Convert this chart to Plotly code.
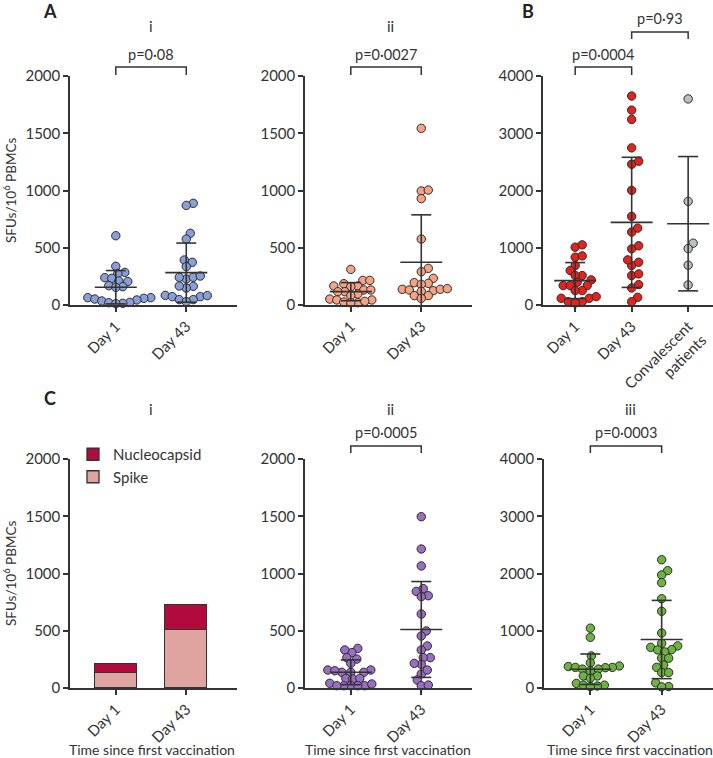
import numpy as np
import plotly.graph_objects as go

W, H = 713, 758

# ---------------- data ----------------
cats2 = ["Day 1", "Day 43"]
cats3 = ["Day 1", "Day 43", "Convalescent<br>patients"]

a_i_day1 = [605, 338, 285, 274, 239, 233, 210, 205, 169, 160, 154, 64, 64, 58, 52, 44, 35, 23, 20, 15, 12]
a_i_day43 = [888, 870, 626, 576, 393, 373, 335, 227, 242, 242, 253, 163, 148, 166, 84, 73, 73, 82, 47, 47, 30]

a_ii_day1 = [311, 215, 215, 186, 166, 166, 160, 131, 116, 116, 131, 96, 82, 52, 44, 44, 26, 20, 20, 32]
a_ii_day43 = [1543, 996, 1004, 929, 576, 320, 291, 233, 189, 195, 180, 137, 125, 131, 137, 143, 119, 82, 82, 58]

b_day1 = [1010, 1051, 835, 858, 689, 602, 514, 514, 339, 438, 397, 339, 339, 251, 251, 117, 146, 117, 58, 58, 35]
b_day43 = [3650, 3404, 3241, 2745, 2458, 2511, 2003, 1547, 1273, 1343, 981, 1034, 689, 788, 747, 514, 543, 298, 356, 134, 58]
b_conv = [3600, 1810, 1080, 985, 695, 350]

c_spike = [131, 505]
c_nucleocapsid = [82, 216]

c_ii_day1 = [346, 309, 332, 265, 253, 215, 157, 157, 137, 151, 137, 137, 84, 79, 84, 20, 41, 20, 35, 20, 20, 20]
c_ii_day43 = [1496, 1214, 1066, 844, 806, 798, 868, 646, 498, 454, 367, 332, 265, 265, 207, 215, 122, 157, 70, 20, 26]

c_iii_day1 = [1045, 885, 560, 440, 385, 375, 360, 360, 355, 330, 330, 300, 210, 210, 170, 80, 50, 50, 35, 25]
c_iii_day43 = [2240, 2050, 1975, 1840, 1560, 1340, 960, 780, 735, 710, 670, 665, 630, 520, 520, 400, 360, 270, 270, 90, 25, 20]

ticks2000 = [0, 500, 1000, 1500, 2000]
ticks4000 = [0, 1000, 2000, 3000, 4000]

# ---------------- styling ----------------
FONT = "Lato"
TXT = "#333333"
LINE = "#333333"
EDGE = "#2a2a2a"
col_blue = "#8a9fd8"
col_salmon = "#f6a284"
col_red = "#e3231c"
col_grey = "#bcc0c5"
col_purple = "#9a6fc3"
col_green = "#6cb33f"
col_nucleo = "#b10a3d"
col_spike = "#dfa49f"

fig = go.Figure()

# panel geometry in pixels: (x0, x1, ytop, ybottom), x range, y max
panels = {
    "Ai":   dict(ax="", px=(70, 237, 76, 305), xr=(-0.65, 1.72), ymax=2000, ticks=ticks2000, cats=cats2),
    "Aii":  dict(ax="2", px=(305, 472, 76, 305), xr=(-0.65, 1.72), ymax=2000, ticks=ticks2000, cats=cats2),
    "B":    dict(ax="3", px=(543, 713, 76, 305), xr=(-0.57, 2.44), ymax=4000, ticks=ticks4000, cats=cats3),
    "Ci":   dict(ax="4", px=(70, 237, 459, 688), xr=(-0.65, 1.72), ymax=2000, ticks=ticks2000, cats=cats2),
    "Cii":  dict(ax="5", px=(305, 472, 459, 688), xr=(-0.65, 1.72), ymax=2000, ticks=ticks2000, cats=cats2),
    "Ciii": dict(ax="6", px=(544, 713, 459, 688), xr=(-0.65, 1.72), ymax=4000, ticks=ticks4000, cats=cats2),
}

layout_axes = {}
for name, p in panels.items():
    x0, x1, yt, yb = p["px"]
    p["ppx"] = (x1 - x0) / (p["xr"][1] - p["xr"][0])
    p["ppy"] = (yb - yt) / p["ymax"]
    suffix = p["ax"]
    xa = dict(domain=[x0 / W, x1 / W], range=list(p["xr"]), anchor="y" + suffix,
              showline=True, linecolor=LINE, linewidth=1.5, ticks="outside", tickcolor=LINE,
              ticklen=5, tickwidth=1.5, showgrid=False, zeroline=False, automargin=False,
              tickmode="array", tickvals=list(range(len(p["cats"]))), ticktext=p["cats"],
              tickangle=-45, tickfont=dict(family=FONT, size=15, color=TXT), fixedrange=True)
    ya = dict(domain=[1 - yb / H, 1 - yt / H], range=[0, p["ymax"]], anchor="x" + suffix,
              showline=True, linecolor=LINE, linewidth=1.5, ticks="outside", tickcolor=LINE,
              ticklen=5, tickwidth=1.5, showgrid=False, zeroline=False, automargin=False,
              tickmode="array", tickvals=p["ticks"], ticktext=[str(t) for t in p["ticks"]],
              tickfont=dict(family=FONT, size=15, color=TXT), fixedrange=True)
    layout_axes["xaxis" + suffix] = xa
    layout_axes["yaxis" + suffix] = ya


def swarm_offsets(vals, ppx, ppy, diam=6.9, step=1.0):
    vals = np.asarray(vals, dtype=float)
    order = np.argsort(vals)
    placed = []
    offs = np.zeros(len(vals))
    cands = [0]
    for j in range(1, 80):
        cands += [j, -j]
    for i in order:
        ypx = vals[i] * ppy
        for c in cands:
            xpx = c * step
            if all((xpx - a) ** 2 + (ypx - b) ** 2 >= diam ** 2 for a, b in placed):
                break
        placed.append((xpx, ypx))
        offs[i] = xpx / ppx
    return offs


def add_dots(panel, idx, vals, color):
    p = panels[panel]
    offs = swarm_offsets(vals, p["ppx"], p["ppy"])
    fig.add_trace(go.Scatter(
        x=idx + offs, y=vals, mode="markers", cliponaxis=False, showlegend=False,
        marker=dict(size=8.4, color=color, line=dict(color=EDGE, width=1)),
        xaxis="x" + p["ax"], yaxis="y" + p["ax"], hoverinfo="y"))


def add_stats(panel, idx, vals):
    p = panels[panel]
    v = np.asarray(vals, dtype=float)
    m = v.mean()
    sd = v.std(ddof=1)
    hw_mean = 21 / p["ppx"]
    hw_cap = 10 / p["ppx"]
    lo = max(0.0, m - sd)
    hi = m + sd
    xs = [idx - hw_mean, idx + hw_mean, None, idx, idx, None, idx - hw_cap, idx + hw_cap]
    ys = [m, m, None, lo, hi, None, hi, hi]
    if m - sd > 0:
        xs += [None, idx - hw_cap, idx + hw_cap]
        ys += [None, lo, lo]
    fig.add_trace(go.Scatter(
        x=xs, y=ys, mode="lines", cliponaxis=False, showlegend=False,
        line=dict(color=LINE, width=1.6), hoverinfo="skip",
        xaxis="x" + p["ax"], yaxis="y" + p["ax"]))


groups = [
    ("Ai", [a_i_day1, a_i_day43], [col_blue, col_blue]),
    ("Aii", [a_ii_day1, a_ii_day43], [col_salmon, col_salmon]),
    ("B", [b_day1, b_day43, b_conv], [col_red, col_red, col_grey]),
    ("Cii", [c_ii_day1, c_ii_day43], [col_purple, col_purple]),
    ("Ciii", [c_iii_day1, c_iii_day43], [col_green, col_green]),
]
for panel, series, cols in groups:
    for i, (vals, c) in enumerate(zip(series, cols)):
        add_dots(panel, i, vals, c)
    for i, vals in enumerate(series):
        add_stats(panel, i, vals)

# stacked bars (C i)
pci = panels["Ci"]
bw = 42 / pci["ppx"]
fig.add_trace(go.Bar(x=[0, 1], y=c_spike, name="Spike", width=bw,
                     marker=dict(color=col_spike, line=dict(color=LINE, width=1.3)),
                     xaxis="x4", yaxis="y4"))
fig.add_trace(go.Bar(x=[0, 1], y=c_nucleocapsid, name="Nucleocapsid", width=bw,
                     marker=dict(color=col_nucleo, line=dict(color=LINE, width=1.3)),
                     xaxis="x4", yaxis="y4"))

# ---------------- annotations ----------------
ann = []


def txt(x, y, s, size=14, bold=False, xref="paper", angle=0):
    ann.append(dict(x=x if xref != "paper" else x / W, y=1 - y / H, xref=xref, yref="paper",
                    text=("<b>%s</b>" % s) if bold else s, showarrow=False,
                    xanchor="center", yanchor="middle", textangle=angle,
                    font=dict(family=FONT, size=size, color=TXT if not bold else "#222")))


txt(50, 11, "A", size=18, bold=True)
txt(528, 11, "B", size=18, bold=True)
txt(50, 398, "C", size=18, bold=True)

txt(151, 26, "i", size=15)
txt(390, 26, "ii", size=15)
txt(151, 409, "i", size=15)
txt(390, 409, "ii", size=15)
txt(630, 409, "iii", size=15)

ylab = "SFUs/10<sup>6</sup> PBMCs"
txt(10, 190, ylab, size=13.5, angle=-90)
txt(10, 573, ylab, size=13.5, angle=-90)

xlab = "Time since first vaccination"
txt(152, 749, xlab)
txt(388, 749, xlab)
txt(630, 749, xlab)

shapes = []


def bracket(panel, a, b, ytop, ytick, label, ytext):
    p = panels[panel]
    xr = "x" + p["ax"]
    y1 = 1 - ytop / H
    y2 = 1 - ytick / H
    shapes.append(dict(type="path", xref=xr, yref="paper",
                       path="M %f,%f L %f,%f L %f,%f L %f,%f" % (a, y2, a, y1, b, y1, b, y2),
                       line=dict(color=LINE, width=1.5)))
    txt((a + b) / 2, ytext, label, size=14.5, xref=xr)


bracket("Ai", 0, 1, 67, 75, "p=0·08", 54)
bracket("Aii", 0, 1, 67, 75, "p=0·0027", 54)
bracket("B", 0, 1, 67, 75, "p=0·0004", 54)
bracket("B", 1, 2, 32, 39, "p=0·93", 19)
bracket("Cii", 0, 1, 446, 453, "p=0·0005", 432)
bracket("Ciii", 0, 1, 446, 453, "p=0·0003", 432)

fig.update_layout(
    width=W, height=H, margin=dict(l=0, r=0, t=0, b=0, autoexpand=False),
    paper_bgcolor="white", plot_bgcolor="white",
    barmode="stack", bargap=0,
    font=dict(family=FONT, size=14, color=TXT),
    annotations=ann, shapes=shapes,
    legend=dict(x=73 / W, y=1 - 438 / H, xanchor="left", yanchor="top",
                traceorder="reversed", bgcolor="rgba(0,0,0,0)",
                font=dict(family=FONT, size=15, color=TXT), tracegroupgap=0,
                itemwidth=30),
    **layout_axes,
)

fig.write_html("out.html", config={"displayModeBar": False},
               post_script="document.body.style.margin='0';document.body.style.overflow='hidden';")
